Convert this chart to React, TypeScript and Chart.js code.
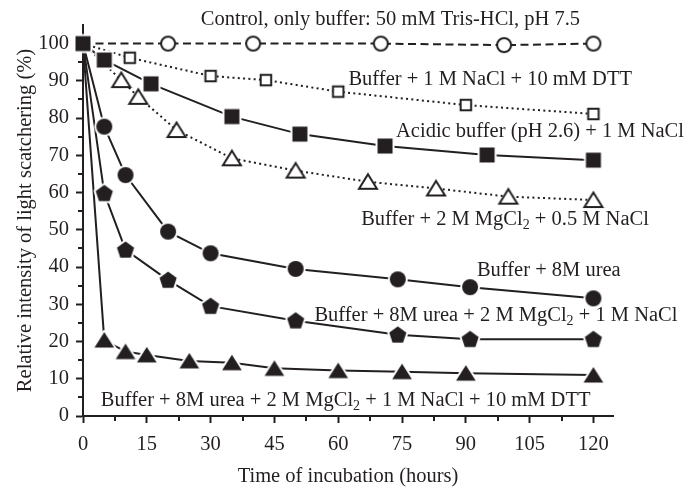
import React, { useEffect, useRef } from 'react';
import { Chart, registerables } from 'chart.js';

Chart.register(...registerables);

const INK = '#231f20';
const FONT_FAMILY = "'Liberation Serif', 'Times New Roman', serif";
const FONT_SIZE = 20.5;
const SUB_SIZE = 14;

// ---- data (time in hours, relative intensity in %) ----
const xControl = [0, 20, 40, 70, 99, 120];
const yControl = [100, 100, 100, 100, 99.6, 100];

const xNaClDtt = [0, 11, 30, 43, 60, 90, 120];
const yNaClDtt = [100, 96.2, 91.3, 90.2, 87.1, 83.5, 81.1];

const xAcidic = [0, 5, 16, 35, 51, 71, 95, 120];
const yAcidic = [100, 95.6, 89.2, 80.4, 75.7, 72.5, 70.1, 68.7];

const xMgNaCl = [0, 9, 13, 22, 35, 50, 67, 83, 100, 120];
const yMgNaCl = [100, 90.2, 85.7, 76.8, 69.2, 65.9, 62.9, 61.1, 58.9, 58];

const xUrea = [0, 5, 10, 20, 30, 50, 74, 91, 120];
const yUrea = [100, 77.7, 64.7, 49.5, 43.7, 39.5, 36.7, 34.6, 31.6];

const xUreaMg = [0, 5, 10, 20, 30, 50, 74, 91, 120];
const yUreaMg = [100, 59.8, 44.6, 36.5, 29.5, 25.6, 21.8, 20.6, 20.6];

const xUreaMgDtt = [0, 5, 10, 15, 25, 35, 45, 60, 75, 90, 120];
const yUreaMgDtt = [100, 20.4, 17.3, 16.4, 14.8, 14.3, 12.8, 12.2, 11.9, 11.5, 11.0];

const xTickStep = 15;
const yTickStep = 10;
const xTitle = 'Time of incubation (hours)';
const yTitle = 'Relative intensity of light scatchering (%)';

type Seg = { t: string; sub?: boolean };
type Note = { x: number; y: number; segs: Seg[] };

// annotation texts, anchored (left, baseline) in data coordinates
const notes: Note[] = [
  { x: 27.7, y: 105.0, segs: [{ t: 'Control, only buffer: 50 mM Tris-HCl, pH 7.5' }] },
  { x: 62.4, y: 88.9, segs: [{ t: 'Buffer + 1 M NaCl + 10 mM DTT' }] },
  { x: 73.6, y: 74.8, segs: [{ t: 'Acidic buffer (pH 2.6) + 1 M NaCl' }] },
  { x: 65.4, y: 51.3, segs: [{ t: 'Buffer + 2 M MgCl' }, { t: '2', sub: true }, { t: ' + 0.5 M NaCl' }] },
  { x: 92.6, y: 37.6, segs: [{ t: 'Buffer + 8M urea' }] },
  { x: 54.4, y: 25.6, segs: [{ t: 'Buffer + 8M urea + 2 M MgCl' }, { t: '2', sub: true }, { t: ' + 1 M NaCl' }] },
  { x: 4.2, y: 2.7, segs: [{ t: 'Buffer + 8M urea + 2 M MgCl' }, { t: '2', sub: true }, { t: ' + 1 M NaCl + 10 mM DTT' }] },
];

// ---- marker images ----
const HALO = 2;
function marker(size: number, draw: (ctx: CanvasRenderingContext2D, c: number) => void) {
  const cv = document.createElement('canvas');
  cv.width = size;
  cv.height = size;
  const ctx = cv.getContext('2d')!;
  draw(ctx, size / 2);
  return cv;
}
function polyPath(ctx: CanvasRenderingContext2D, pts: [number, number][]) {
  ctx.beginPath();
  pts.forEach(([px, py], i) => (i ? ctx.lineTo(px, py) : ctx.moveTo(px, py)));
  ctx.closePath();
}
function filledPoly(pts: (c: number) => [number, number][]) {
  return marker(26, (ctx, c) => {
    const p = pts(c);
    polyPath(ctx, p);
    ctx.lineJoin = 'round';
    ctx.strokeStyle = '#fff';
    ctx.lineWidth = HALO * 2;
    ctx.stroke();
    ctx.fillStyle = INK;
    ctx.fill();
  });
}
const filledSquare = filledPoly((c) => {
  const h = 7.5;
  return [[c - h, c - h], [c + h, c - h], [c + h, c + h], [c - h, c + h]];
});
const filledCircle = marker(26, (ctx, c) => {
  ctx.beginPath();
  ctx.arc(c, c, 8 + HALO, 0, Math.PI * 2);
  ctx.fillStyle = '#fff';
  ctx.fill();
  ctx.beginPath();
  ctx.arc(c, c, 8, 0, Math.PI * 2);
  ctx.fillStyle = INK;
  ctx.fill();
});
const filledPentagon = filledPoly((c) => {
  const R = 9;
  const pts: [number, number][] = [];
  const cy = c + 0.5;
  for (let k = 0; k < 5; k++) {
    const a = -Math.PI / 2 + (k * 2 * Math.PI) / 5;
    pts.push([c + R * Math.cos(a), cy + R * Math.sin(a)]);
  }
  return pts;
});
const filledTriangle = filledPoly((c) => [
  [c, c - 8],
  [c + 9.8, c + 7.5],
  [c - 9.8, c + 7.5],
]);
const openCircle = marker(22, (ctx, c) => {
  ctx.beginPath();
  ctx.arc(c, c, 7, 0, Math.PI * 2);
  ctx.fillStyle = '#fff';
  ctx.fill();
  ctx.lineWidth = 2;
  ctx.strokeStyle = INK;
  ctx.stroke();
});
const openSquare = marker(18, (ctx, c) => {
  const s = 10.5;
  ctx.fillStyle = '#fff';
  ctx.fillRect(c - s / 2, c - s / 2, s, s);
  ctx.lineWidth = 2;
  ctx.strokeStyle = INK;
  ctx.strokeRect(c - s / 2, c - s / 2, s, s);
});
const openTriangle = marker(26, (ctx, c) => {
  polyPath(ctx, [
    [c, c - 7.5],
    [c + 9, c + 7],
    [c - 9, c + 7],
  ]);
  ctx.fillStyle = '#fff';
  ctx.fill();
  ctx.lineJoin = 'miter';
  ctx.lineWidth = 2;
  ctx.strokeStyle = INK;
  ctx.stroke();
});

const pts = (xs: number[], ys: number[]) => xs.map((x, i) => ({ x, y: ys[i] }));
const hideFirst = (ctx: any) => (ctx.dataIndex === 0 ? 0 : 8);

const minorTicks = {
  id: 'minorTicks',
  afterDatasetsDraw(chart: any) {
    const { ctx, scales, chartArea } = chart;
    const x = scales.x;
    const y = scales.y;
    ctx.save();
    ctx.strokeStyle = INK;
    ctx.lineWidth = 2;
    ctx.beginPath();
    for (let v = xTickStep / 2; v < x.max; v += xTickStep) {
      const px = Math.round(x.getPixelForValue(v));
      ctx.moveTo(px, chartArea.bottom);
      ctx.lineTo(px, chartArea.bottom + 5);
    }
    for (let v = yTickStep / 2; v < y.max; v += yTickStep) {
      const py = Math.round(y.getPixelForValue(v));
      ctx.moveTo(chartArea.left, py);
      ctx.lineTo(chartArea.left - 5, py);
    }
    ctx.stroke();
    ctx.restore();
  },
};

const notePlugin = {
  id: 'notes',
  afterDatasetsDraw(chart: any) {
    const { ctx, scales } = chart;
    ctx.save();
    ctx.fillStyle = INK;
    ctx.textAlign = 'left';
    ctx.textBaseline = 'alphabetic';
    for (const n of notes) {
      let px = scales.x.getPixelForValue(n.x);
      const py = scales.y.getPixelForValue(n.y);
      for (const s of n.segs) {
        ctx.font = `${s.sub ? SUB_SIZE : FONT_SIZE}px ${FONT_FAMILY}`;
        ctx.fillText(s.t, px, py + (s.sub ? 4.5 : 0));
        px += ctx.measureText(s.t).width;
      }
    }
    ctx.restore();
  },
};

export default function App() {
  const ref = useRef<HTMLCanvasElement | null>(null);
  useEffect(() => {
    if (!ref.current) return;
    const font = { family: FONT_FAMILY, size: FONT_SIZE, lineHeight: 1.2 };
    const base = { borderColor: INK, borderWidth: 2, fill: false, tension: 0, clip: false as any };
    const chart = new Chart(ref.current, {
      type: 'line',
      data: {
        datasets: [
          { ...base, label: 'Acidic buffer (pH 2.6) + 1 M NaCl', data: pts(xAcidic, yAcidic), pointStyle: filledSquare as any, pointRadius: 8, order: 0 },
          { ...base, label: 'Control', data: pts(xControl, yControl), borderDash: [8, 4.5], pointStyle: openCircle as any, pointRadius: hideFirst, order: 1 },
          { ...base, label: 'Buffer + 1 M NaCl + 10 mM DTT', data: pts(xNaClDtt, yNaClDtt), borderDash: [2, 3.3], pointStyle: openSquare as any, pointRadius: hideFirst, order: 2 },
          { ...base, label: 'Buffer + 2 M MgCl2 + 0.5 M NaCl', data: pts(xMgNaCl, yMgNaCl), borderDash: [2, 3.3], pointStyle: openTriangle as any, pointRadius: hideFirst, order: 3 },
          { ...base, label: 'Buffer + 8M urea', data: pts(xUrea, yUrea), pointStyle: filledCircle as any, pointRadius: hideFirst, order: 4 },
          { ...base, label: 'Buffer + 8M urea + 2 M MgCl2 + 1 M NaCl', data: pts(xUreaMg, yUreaMg), pointStyle: filledPentagon as any, pointRadius: hideFirst, order: 5 },
          { ...base, label: 'Buffer + 8M urea + 2 M MgCl2 + 1 M NaCl + 10 mM DTT', data: pts(xUreaMgDtt, yUreaMgDtt), pointStyle: filledTriangle as any, pointRadius: hideFirst, order: 6 },
        ] as any,
      },
      options: {
        responsive: false,
        animation: false,
        devicePixelRatio: 1,
        layout: { padding: { left: 0, top: 25, right: 75, bottom: 0 } },
        plugins: { legend: { display: false }, tooltip: { enabled: false } },
        scales: {
          x: {
            type: 'linear',
            position: 'bottom',
            min: 0,
            max: 124.6,
            ticks: { stepSize: xTickStep, includeBounds: false, color: INK, font, padding: 9, maxRotation: 0, autoSkip: false },
            grid: { display: true, drawOnChartArea: false, drawTicks: true, tickLength: 7, tickWidth: 2, tickColor: INK },
            border: { display: true, color: INK, width: 2 },
            title: { display: true, text: xTitle, color: INK, font, padding: { top: 0, bottom: 0 } },
            afterFit: (s: any) => { s.height = 73; },
          },
          y: {
            type: 'linear',
            min: 0,
            max: 105,
            ticks: { stepSize: yTickStep, includeBounds: false, color: INK, font, padding: 7, autoSkip: false },
            grid: { display: true, drawOnChartArea: false, drawTicks: true, tickLength: 7, tickWidth: 2, tickColor: INK },
            border: { display: true, color: INK, width: 2 },
            title: { display: true, text: yTitle, color: INK, font, padding: { top: 13, bottom: 0 } },
            afterFit: (s: any) => { s.width = 83; },
          },
        },
      } as any,
      plugins: [minorTicks, notePlugin],
    });
    return () => chart.destroy();
  }, []);
  return (
    <div style={{ position: 'absolute', left: 0, top: 0, width: 688, height: 489, background: '#fff' }}>
      <canvas ref={ref} width={688} height={489} style={{ display: 'block' }} />
    </div>
  );
}
